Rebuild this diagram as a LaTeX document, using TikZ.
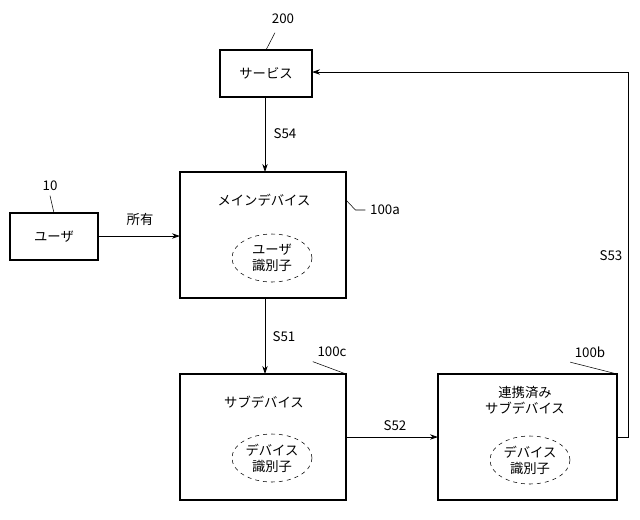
\documentclass[tikz,border=0pt]{standalone}
\usepackage{fontspec}
\setmainfont{Noto Sans CJK JP}
\usetikzlibrary{arrows.meta,shapes.geometric}
\begin{document}
\begin{tikzpicture}[x=0.75pt,y=-0.75pt,
  box/.style={draw,line width=0.8pt,inner sep=0},
  ell/.style={draw,dashed,ellipse,minimum width=80*0.75pt,minimum height=48*0.75pt,inner sep=0,align=center,font=\fontsize{10}{12}\selectfont},
  txt/.style={font=\fontsize{10}{12}\selectfont,align=center},
  arr/.style={-{Stealth[length=6pt,width=4pt]},line width=0.6pt}]
\useasboundingbox (0,0) rectangle (640,519);
\draw[box] (220,50) rectangle (312,97); \node[txt] (svc) at (266,73) {サービス};
\coordinate (svcR) at (312,72); \coordinate (svcB) at (265,97);
\node[txt] (l200) at (283,19) {200};
\draw (l200.south) ++(-8,4) -- (266,50);
\draw[box] (180,172) rectangle (346,298); \node[txt] (main) at (264,200) {メインデバイス};
\node[ell] (e1) at (272,258) {ユーザ\\識別子};
\node[txt] (l100a) at (385,210) {100a};
\draw (l100a.west) -- ++(-10,0) -- (346,200);
\draw[box] (10,213) rectangle (98,260); \node[txt] (usr) at (54,237) {ユーザ};
\node[txt] (l10) at (50,186) {10};
\draw (l10.south) -- (54,213);
\coordinate (usrR) at (98,236); \coordinate (mainL) at (180,236);
\draw[arr] (usrR) -- (mainL); \node[txt] at (140,219) {所有};
\coordinate (mainT) at (265,172); \coordinate (mainB) at (265,298);
\draw[arr] (svcB) -- (mainT); \node[txt] at (285,134) {S54};
\draw[box] (180,374) rectangle (346,500); \node[txt] (sub) at (264,402) {サブデバイス};
\node[ell] (e2) at (272,458) {デバイス\\識別子};
\coordinate (subT) at (265,374); \coordinate (subR) at (346,437);
\draw[arr] (mainB) -- (subT); \node[txt] at (284,337) {S51};
\node[txt] (l100c) at (332,352) {100c};
\draw (l100c.south west) -- (346,374) ;
\draw[box] (438,374) rectangle (617,500); \node[txt] (lnk) at (525,400) {連携済み\\サブデバイス};
\node[ell] (e3) at (530,460) {デバイス\\識別子};
\coordinate (lnkL) at (438,437); \coordinate (lnkR) at (617,437);
\draw[arr] (subR) -- (lnkL); \node[txt] at (395,426) {S52};
\node[txt] (l100b) at (590,352) {100b};
\draw (l100b.south west) -- (617,374);
\draw[arr] (lnkR) -- (628,437) -- (628,72) -- (svcR);
\node[txt] at (611,256) {S53};
\end{tikzpicture}
\end{document}
